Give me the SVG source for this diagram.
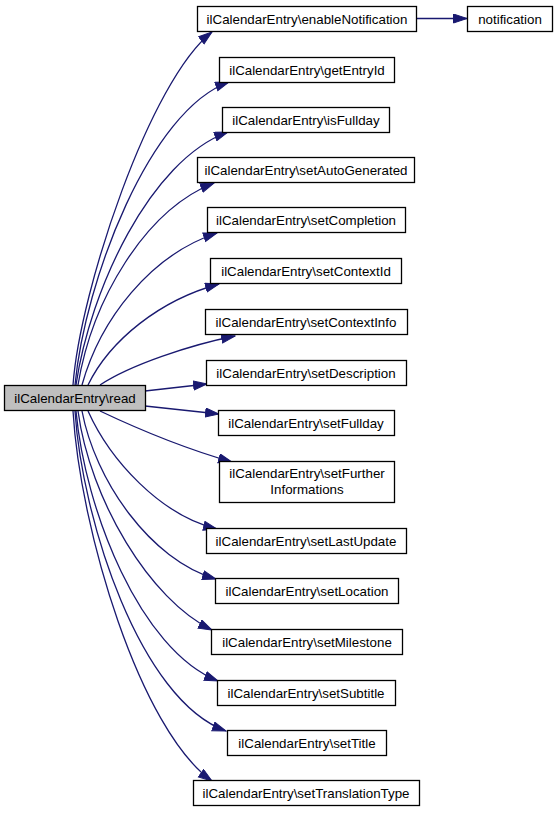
<svg xmlns="http://www.w3.org/2000/svg" width="559" height="813" viewBox="0 0 559 813">
<style>
.n rect{fill:#fff;stroke:#000;stroke-width:1.3}
.n text{font-family:"Liberation Sans",Arial,sans-serif;font-size:13.33px;text-anchor:middle;fill:#000}
#read rect{fill:#bfbfbf}
#edges path{fill:none;stroke:#191970;stroke-width:1.3}
</style>
<defs>
<marker id="ah" markerUnits="userSpaceOnUse" markerWidth="15" markerHeight="11" refX="14" refY="5" orient="auto">
<path d="M0.5,0.5 L14,5 L0.5,9.5 z" fill="#191970" stroke="#191970" stroke-width="1"/>
</marker>
</defs>
<rect width="559" height="813" fill="#fff"/>
<g id="edges">
<path marker-end="url(#ah)" d="M416,18.5 L467,18.5"/>
<path marker-end="url(#ah)" d="M73,385 C80,290 150,80 212,32"/>
<path marker-end="url(#ah)" d="M75,385 C85,280 150,110 229,82"/>
<path marker-end="url(#ah)" d="M76,385 C90,290 150,160 228,132"/>
<path marker-end="url(#ah)" d="M78,385 C92,300 145,210 214,183"/>
<path marker-end="url(#ah)" d="M82,385 C100,320 150,255 217,233"/>
<path marker-end="url(#ah)" d="M88,385 C110,340 160,300 219,284"/>
<path marker-end="url(#ah)" d="M100,385 C130,365 190,345 235,336"/>
<path marker-end="url(#ah)" d="M145,391 L207,384"/>
<path marker-end="url(#ah)" d="M145,406 L219,414"/>
<path marker-end="url(#ah)" d="M100,411 C140,430 190,450 232,462"/>
<path marker-end="url(#ah)" d="M88,411 C110,460 160,515 217,529"/>
<path marker-end="url(#ah)" d="M82,411 C95,480 150,560 216,579"/>
<path marker-end="url(#ah)" d="M78,411 C90,500 150,600 212,630"/>
<path marker-end="url(#ah)" d="M76,411 C85,510 140,650 218,681"/>
<path marker-end="url(#ah)" d="M75,411 C82,520 140,700 226,731"/>
<path marker-end="url(#ah)" d="M73,411 C80,530 140,730 212,781"/>
</g>
<g id="read" class="n"><rect x="4.5" y="385.5" width="141" height="25"/><text x="75" y="402.5">ilCalendarEntry\read</text></g>
<g id="enableNotification" class="n"><rect x="197.5" y="6.5" width="219" height="25"/><text x="307" y="23.5">ilCalendarEntry\enableNotification</text></g>
<g id="notification" class="n"><rect x="467.5" y="6.5" width="85" height="25"/><text x="510" y="23.5">notification</text></g>
<g id="getEntryId" class="n"><rect x="219.5" y="57.5" width="175" height="25"/><text x="307" y="74.5">ilCalendarEntry\getEntryId</text></g>
<g id="isFullday" class="n"><rect x="222.5" y="107.5" width="167" height="25"/><text x="306" y="124.5">ilCalendarEntry\isFullday</text></g>
<g id="setAutoGenerated" class="n"><rect x="197.5" y="157.5" width="217" height="25"/><text x="306" y="174.5">ilCalendarEntry\setAutoGenerated</text></g>
<g id="setCompletion" class="n"><rect x="207.5" y="207.5" width="198" height="25"/><text x="306" y="224.5">ilCalendarEntry\setCompletion</text></g>
<g id="setContextId" class="n"><rect x="210.5" y="258.5" width="191" height="25"/><text x="306" y="275.5">ilCalendarEntry\setContextId</text></g>
<g id="setContextInfo" class="n"><rect x="205.5" y="309.5" width="202" height="25"/><text x="306" y="326.5">ilCalendarEntry\setContextInfo</text></g>
<g id="setDescription" class="n"><rect x="206.5" y="360.5" width="200" height="25"/><text x="306" y="377.5">ilCalendarEntry\setDescription</text></g>
<g id="setFullday" class="n"><rect x="218.5" y="410.5" width="176" height="25"/><text x="306" y="427.5">ilCalendarEntry\setFullday</text></g>
<g id="setFurtherInformations" class="n"><rect x="219.5" y="461.5" width="175" height="41"/><text x="307" y="477.5">ilCalendarEntry\setFurther</text><text x="307" y="493.5">Informations</text></g>
<g id="setLastUpdate" class="n"><rect x="206.5" y="528.5" width="200" height="25"/><text x="306" y="545.5">ilCalendarEntry\setLastUpdate</text></g>
<g id="setLocation" class="n"><rect x="215.5" y="578.5" width="183" height="25"/><text x="307" y="595.5">ilCalendarEntry\setLocation</text></g>
<g id="setMilestone" class="n"><rect x="211.5" y="629.5" width="191" height="25"/><text x="307" y="646.5">ilCalendarEntry\setMilestone</text></g>
<g id="setSubtitle" class="n"><rect x="217.5" y="680.5" width="178" height="25"/><text x="306" y="697.5">ilCalendarEntry\setSubtitle</text></g>
<g id="setTitle" class="n"><rect x="227.5" y="730.5" width="159" height="25"/><text x="307" y="747.5">ilCalendarEntry\setTitle</text></g>
<g id="setTranslationType" class="n"><rect x="193.5" y="780.5" width="226" height="25"/><text x="306" y="797.5">ilCalendarEntry\setTranslationType</text></g>
</svg>
